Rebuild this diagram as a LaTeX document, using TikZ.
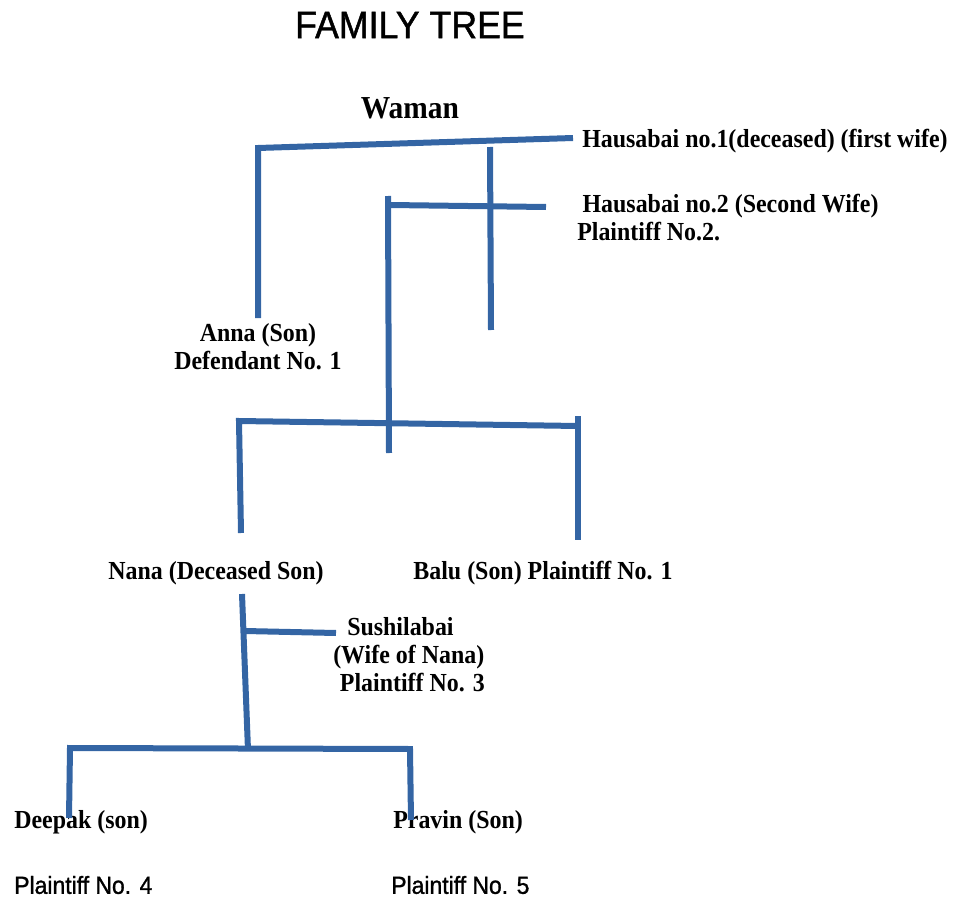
\documentclass[tikz,border=0pt]{standalone}
\usepackage{fontspec}
\setmainfont[FakeStretch=0.92]{Liberation Serif}
\newfontfamily\arialfont[FakeStretch=0.93, FakeBold=1.2]{Liberation Sans}
\definecolor{treeblue}{RGB}{52,101,164}

\begin{document}
\begin{tikzpicture}[
    x=0.75pt, y=-0.75pt,
    branch/.style={draw=treeblue, line width=4.5pt, line join=miter},
    person/.style={inner sep=0pt, align=center, font=\fontsize{19.5}{21}\selectfont\bfseries},
    plaintiff/.style={inner sep=0pt, anchor=west, font=\arialfont\fontsize{18.5}{20}\selectfont}
]
    \useasboundingbox (0,0) rectangle (961,899);

    % titles
    \node[inner sep=0pt, font=\arialfont\fontsize{28.8}{30}\selectfont] (title) at (410,25) {FAMILY TREE};
    \node[person, font=\fontsize{24}{26}\selectfont\bfseries] (waman) at (410,108) {Waman};

    % people
    \node[person, anchor=west] (hausaone) at (582,141) {Hausabai no.1(deceased) (first wife)};
    \node[person, align=left, anchor=north west] (hausatwo) at (577,194) {\hspace*{4pt}Hausabai no.2 (Second Wife)\\Plaintiff No.2.};
    \node[person] (anna) at (258,347) {Anna (Son)\\Defendant No. 1};
    \node[person] (nana) at (216,573) {Nana (Deceased Son)};
    \node[person] (balu) at (543,573) {Balu (Son) Plaintiff No. 1};
    \node[person, align=left, anchor=north west] (sushila) at (333,617) {\hspace*{10.5pt}Sushilabai\\(Wife of Nana)\\\hspace*{5pt}Plaintiff No. 3};
    \node[person, anchor=west] (deepak) at (14,822) {Deepak (son)};
    \node[person, anchor=west] (pravin) at (393,822) {Pravin (Son)};
    \node[plaintiff] (pfour) at (14,885) {Plaintiff No. 4};
    \node[plaintiff] (pfive) at (391,885) {Plaintiff No. 5};

    % joints
    \coordinate (wleft) at (258,148);
    \coordinate (wright) at (573,138);
    \coordinate (annatop) at (258,318);
    \coordinate (hone) at (490,147);
    \coordinate (honeend) at (491,330);
    \coordinate (htwotop) at (388,196);
    \coordinate (htwoend) at (389,453);
    \coordinate (htwoleft) at (390,205);
    \coordinate (htworight) at (546,207);
    \coordinate (sleft) at (239,421);
    \coordinate (sright) at (578,426);
    \coordinate (nanatop) at (241,533);
    \coordinate (balutop) at (578,416);
    \coordinate (balubot) at (578,540);
    \coordinate (nanabot) at (242,594);
    \coordinate (kidsmid) at (248,750);
    \coordinate (sushi) at (245,631);
    \coordinate (sushiend) at (336,633);
    \coordinate (kleft) at (70,748);
    \coordinate (kright) at (410,749);
    \coordinate (deepaktop) at (69,818);
    \coordinate (pravintop) at (411,820);

    % branches
    \draw[branch] (annatop) -- (wleft) -- (wright);
    \draw[branch] (hone) -- (honeend);
    \draw[branch] (htwotop) -- (htwoend);
    \draw[branch] (htwoleft) -- (htworight);
    \draw[branch] (nanatop) -- (sleft) -- (sright);
    \draw[branch] (balutop) -- (balubot);
    \draw[branch] (nanabot) -- (kidsmid);
    \draw[branch] (sushi) -- (sushiend);
    \draw[branch] (deepaktop) -- (kleft) -- (kright) -- (pravintop);
\end{tikzpicture}
\end{document}
